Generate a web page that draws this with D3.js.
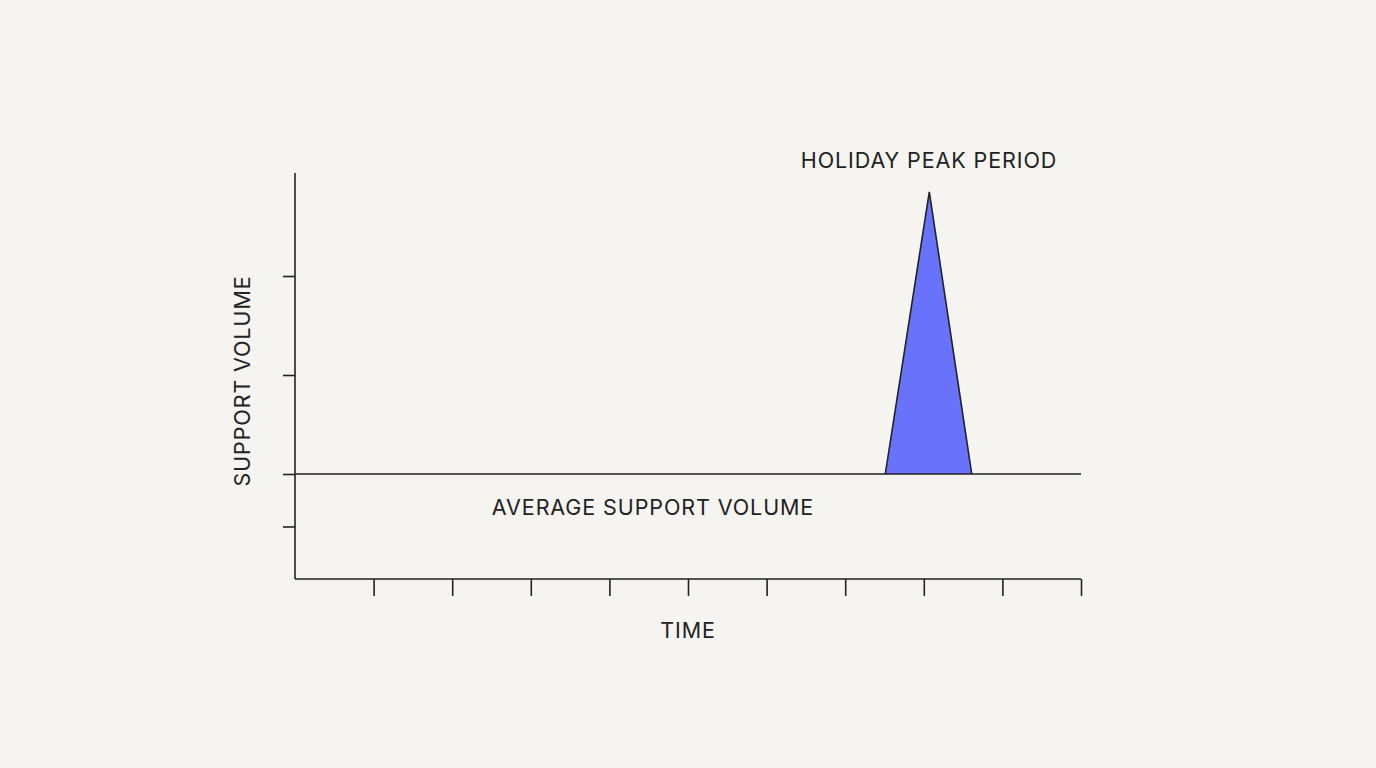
<!DOCTYPE html>
<html><head><meta charset="utf-8">
<script src="https://cdn.jsdelivr.net/npm/d3@7"></script>
<style>
body{margin:0;background:#f5f4f1;}
text{font-family:Inter,"Open Sans",sans-serif;fill:#222;letter-spacing:0.9px;}
</style></head>
<body><svg width="1376" height="768"></svg>
<script>
// time positions (tick units) and volume relative to average
const timeTicks = [0, 1, 2, 3, 4, 5, 6, 7, 8, 9, 10];
const volumeTicks = [-0.53, 0, 1, 2];
const baselineX = [0, 10];
const peakTime = [7.51, 8.07, 8.61];
const peakVolume = [0, 2.85, 0];

const svg = d3.select('svg');
const x = d3.scaleLinear().domain([0, 10]).range([295, 1081]);
const y = d3.scaleLinear().domain([0, 1]).range([474, 375]);

// axes
svg.append('g').attr('transform', `translate(0,${y(-1.06)})`)
  .call(d3.axisBottom(x).tickValues(timeTicks.slice(1)).tickSize(17).tickFormat(''))
  .call(g => g.select('.domain').attr('d', `M${x(0)},0H${x(10)}`));
svg.append('g').attr('transform', `translate(${x(0)},0)`)
  .call(d3.axisLeft(y).tickValues(volumeTicks).tickSize(12).tickFormat(''))
  .call(g => g.select('.domain').attr('d', `M0,${y(3.04)}V${y(-1.06)}`));
svg.selectAll('.domain, .tick line').attr('stroke', '#222').attr('stroke-width', 1.6);

// peak
const pts = peakTime.map((t, i) => [t, peakVolume[i]]);
svg.append('path').datum(pts)
  .attr('d', d3.line().x(d => x(d[0])).y(d => y(d[1])))
  .attr('fill', '#6872fb').attr('stroke', '#222').attr('stroke-width', 1.6);

// average line
svg.append('line').attr('x1', x(baselineX[0])).attr('x2', x(baselineX[1]))
  .attr('y1', y(0)).attr('y2', y(0)).attr('stroke', '#222').attr('stroke-width', 1.6);

svg.append('text').attr('x', 929).attr('y', 168).attr('text-anchor', 'middle')
  .attr('font-size', 21.5).text('HOLIDAY PEAK PERIOD');
svg.append('text').attr('x', 653).attr('y', 515).attr('text-anchor', 'middle')
  .attr('font-size', 21.5).text('AVERAGE SUPPORT VOLUME');
svg.append('text').attr('x', 688).attr('y', 638).attr('text-anchor', 'middle')
  .attr('font-size', 21.5).text('TIME');
svg.append('text').attr('transform', 'translate(250,381) rotate(-90)').attr('text-anchor', 'middle')
  .attr('font-size', 21.5).text('SUPPORT VOLUME');
</script></body></html>
